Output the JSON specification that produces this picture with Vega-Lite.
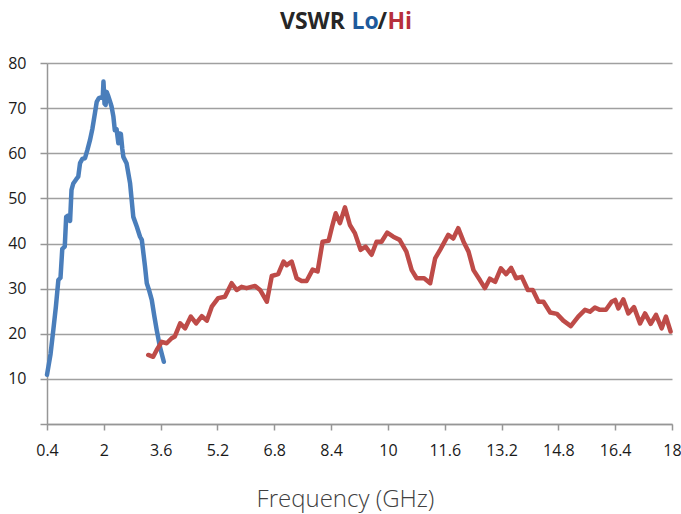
{
  "$schema": "https://vega.github.io/schema/vega-lite/v6.json",
  "width": 625,
  "height": 361,
  "autosize": "none",
  "padding": {"left": 47, "top": 63, "right": 9, "bottom": 90},
  "background": "white",
  "title": {
    "text": "VSWR",
    "font": "Open Sans",
    "fontSize": 23,
    "fontWeight": "bold",
    "color": "#262626",
    "anchor": "start",
    "frame": "group",
    "dx": 233,
    "offset": -42,
    "baseline": "alphabetic"
  },
  "config": {
    "view": {"stroke": null},
    "font": "Open Sans"
  },
  "data": {
    "values": [
      {"series": "Lo", "f": 0.40, "v": 10.9},
      {"series": "Lo", "f": 0.50, "v": 15.5},
      {"series": "Lo", "f": 0.58, "v": 21.0},
      {"series": "Lo", "f": 0.65, "v": 26.0},
      {"series": "Lo", "f": 0.72, "v": 31.9},
      {"series": "Lo", "f": 0.78, "v": 32.4},
      {"series": "Lo", "f": 0.83, "v": 38.8},
      {"series": "Lo", "f": 0.90, "v": 39.3},
      {"series": "Lo", "f": 0.94, "v": 45.9},
      {"series": "Lo", "f": 1.00, "v": 46.2},
      {"series": "Lo", "f": 1.05, "v": 45.0},
      {"series": "Lo", "f": 1.09, "v": 51.9},
      {"series": "Lo", "f": 1.14, "v": 53.3},
      {"series": "Lo", "f": 1.22, "v": 54.2},
      {"series": "Lo", "f": 1.28, "v": 54.8},
      {"series": "Lo", "f": 1.33, "v": 57.8},
      {"series": "Lo", "f": 1.40, "v": 58.8},
      {"series": "Lo", "f": 1.47, "v": 58.9},
      {"series": "Lo", "f": 1.54, "v": 60.8},
      {"series": "Lo", "f": 1.61, "v": 62.9},
      {"series": "Lo", "f": 1.68, "v": 65.5},
      {"series": "Lo", "f": 1.75, "v": 68.9},
      {"series": "Lo", "f": 1.80, "v": 71.4},
      {"series": "Lo", "f": 1.86, "v": 72.2},
      {"series": "Lo", "f": 1.93, "v": 72.4},
      {"series": "Lo", "f": 1.97, "v": 72.2},
      {"series": "Lo", "f": 1.99, "v": 75.9},
      {"series": "Lo", "f": 2.02, "v": 71.0},
      {"series": "Lo", "f": 2.05, "v": 70.7},
      {"series": "Lo", "f": 2.08, "v": 73.6},
      {"series": "Lo", "f": 2.12, "v": 72.8},
      {"series": "Lo", "f": 2.17, "v": 71.6},
      {"series": "Lo", "f": 2.22, "v": 70.3},
      {"series": "Lo", "f": 2.27, "v": 68.1},
      {"series": "Lo", "f": 2.31, "v": 65.1},
      {"series": "Lo", "f": 2.36, "v": 65.3},
      {"series": "Lo", "f": 2.41, "v": 62.2},
      {"series": "Lo", "f": 2.44, "v": 64.4},
      {"series": "Lo", "f": 2.48, "v": 64.3},
      {"series": "Lo", "f": 2.52, "v": 61.0},
      {"series": "Lo", "f": 2.55, "v": 59.2},
      {"series": "Lo", "f": 2.64, "v": 57.8},
      {"series": "Lo", "f": 2.74, "v": 53.3},
      {"series": "Lo", "f": 2.83, "v": 45.9},
      {"series": "Lo", "f": 2.93, "v": 43.7},
      {"series": "Lo", "f": 3.02, "v": 41.5},
      {"series": "Lo", "f": 3.07, "v": 40.8},
      {"series": "Lo", "f": 3.16, "v": 34.9},
      {"series": "Lo", "f": 3.21, "v": 31.2},
      {"series": "Lo", "f": 3.28, "v": 29.5},
      {"series": "Lo", "f": 3.35, "v": 27.5},
      {"series": "Lo", "f": 3.42, "v": 24.0},
      {"series": "Lo", "f": 3.49, "v": 20.8},
      {"series": "Lo", "f": 3.58, "v": 17.1},
      {"series": "Lo", "f": 3.69, "v": 13.8},
      {"series": "Hi", "f": 3.25, "v": 15.3},
      {"series": "Hi", "f": 3.39, "v": 14.9},
      {"series": "Hi", "f": 3.49, "v": 16.4},
      {"series": "Hi", "f": 3.63, "v": 18.2},
      {"series": "Hi", "f": 3.77, "v": 17.9},
      {"series": "Hi", "f": 3.91, "v": 19.0},
      {"series": "Hi", "f": 4.00, "v": 19.4},
      {"series": "Hi", "f": 4.15, "v": 22.3},
      {"series": "Hi", "f": 4.29, "v": 21.2},
      {"series": "Hi", "f": 4.45, "v": 23.8},
      {"series": "Hi", "f": 4.60, "v": 22.3},
      {"series": "Hi", "f": 4.76, "v": 23.9},
      {"series": "Hi", "f": 4.90, "v": 22.9},
      {"series": "Hi", "f": 5.04, "v": 26.0},
      {"series": "Hi", "f": 5.22, "v": 27.9},
      {"series": "Hi", "f": 5.41, "v": 28.2},
      {"series": "Hi", "f": 5.60, "v": 31.2},
      {"series": "Hi", "f": 5.74, "v": 29.7},
      {"series": "Hi", "f": 5.88, "v": 30.4},
      {"series": "Hi", "f": 6.02, "v": 30.1},
      {"series": "Hi", "f": 6.26, "v": 30.6},
      {"series": "Hi", "f": 6.40, "v": 29.7},
      {"series": "Hi", "f": 6.59, "v": 27.1},
      {"series": "Hi", "f": 6.73, "v": 32.8},
      {"series": "Hi", "f": 6.91, "v": 33.2},
      {"series": "Hi", "f": 7.06, "v": 36.0},
      {"series": "Hi", "f": 7.15, "v": 35.2},
      {"series": "Hi", "f": 7.29, "v": 36.0},
      {"series": "Hi", "f": 7.43, "v": 32.3},
      {"series": "Hi", "f": 7.57, "v": 31.7},
      {"series": "Hi", "f": 7.71, "v": 31.7},
      {"series": "Hi", "f": 7.88, "v": 34.2},
      {"series": "Hi", "f": 8.02, "v": 33.8},
      {"series": "Hi", "f": 8.16, "v": 40.4},
      {"series": "Hi", "f": 8.33, "v": 40.6},
      {"series": "Hi", "f": 8.42, "v": 43.5},
      {"series": "Hi", "f": 8.53, "v": 46.7},
      {"series": "Hi", "f": 8.65, "v": 44.5},
      {"series": "Hi", "f": 8.79, "v": 48.0},
      {"series": "Hi", "f": 8.93, "v": 44.1},
      {"series": "Hi", "f": 9.07, "v": 42.3},
      {"series": "Hi", "f": 9.23, "v": 38.6},
      {"series": "Hi", "f": 9.37, "v": 39.3},
      {"series": "Hi", "f": 9.54, "v": 37.5},
      {"series": "Hi", "f": 9.68, "v": 40.4},
      {"series": "Hi", "f": 9.82, "v": 40.4},
      {"series": "Hi", "f": 9.98, "v": 42.4},
      {"series": "Hi", "f": 10.15, "v": 41.5},
      {"series": "Hi", "f": 10.33, "v": 40.8},
      {"series": "Hi", "f": 10.52, "v": 38.2},
      {"series": "Hi", "f": 10.67, "v": 34.1},
      {"series": "Hi", "f": 10.81, "v": 32.3},
      {"series": "Hi", "f": 11.02, "v": 32.3},
      {"series": "Hi", "f": 11.19, "v": 31.2},
      {"series": "Hi", "f": 11.33, "v": 36.7},
      {"series": "Hi", "f": 11.47, "v": 38.6},
      {"series": "Hi", "f": 11.70, "v": 41.9},
      {"series": "Hi", "f": 11.84, "v": 41.1},
      {"series": "Hi", "f": 11.98, "v": 43.4},
      {"series": "Hi", "f": 12.13, "v": 40.4},
      {"series": "Hi", "f": 12.27, "v": 38.2},
      {"series": "Hi", "f": 12.41, "v": 34.1},
      {"series": "Hi", "f": 12.59, "v": 31.9},
      {"series": "Hi", "f": 12.73, "v": 30.1},
      {"series": "Hi", "f": 12.87, "v": 32.2},
      {"series": "Hi", "f": 13.02, "v": 31.5},
      {"series": "Hi", "f": 13.18, "v": 34.5},
      {"series": "Hi", "f": 13.33, "v": 33.2},
      {"series": "Hi", "f": 13.47, "v": 34.6},
      {"series": "Hi", "f": 13.61, "v": 32.3},
      {"series": "Hi", "f": 13.77, "v": 32.6},
      {"series": "Hi", "f": 13.94, "v": 29.7},
      {"series": "Hi", "f": 14.08, "v": 29.7},
      {"series": "Hi", "f": 14.24, "v": 27.1},
      {"series": "Hi", "f": 14.38, "v": 27.1},
      {"series": "Hi", "f": 14.57, "v": 24.7},
      {"series": "Hi", "f": 14.76, "v": 24.4},
      {"series": "Hi", "f": 14.94, "v": 22.9},
      {"series": "Hi", "f": 15.15, "v": 21.7},
      {"series": "Hi", "f": 15.36, "v": 23.8},
      {"series": "Hi", "f": 15.55, "v": 25.3},
      {"series": "Hi", "f": 15.69, "v": 24.9},
      {"series": "Hi", "f": 15.83, "v": 25.8},
      {"series": "Hi", "f": 15.97, "v": 25.3},
      {"series": "Hi", "f": 16.14, "v": 25.3},
      {"series": "Hi", "f": 16.30, "v": 27.1},
      {"series": "Hi", "f": 16.40, "v": 27.5},
      {"series": "Hi", "f": 16.49, "v": 25.6},
      {"series": "Hi", "f": 16.63, "v": 27.6},
      {"series": "Hi", "f": 16.77, "v": 24.5},
      {"series": "Hi", "f": 16.93, "v": 25.9},
      {"series": "Hi", "f": 17.10, "v": 22.3},
      {"series": "Hi", "f": 17.24, "v": 24.5},
      {"series": "Hi", "f": 17.40, "v": 22.2},
      {"series": "Hi", "f": 17.55, "v": 24.2},
      {"series": "Hi", "f": 17.71, "v": 21.2},
      {"series": "Hi", "f": 17.83, "v": 23.8},
      {"series": "Hi", "f": 17.96, "v": 20.5}
    ]
  },
  "resolve": {"axis": {"x": "independent", "y": "independent"}},
  "layer": [
    {
      "transform": [{"filter": "datum.series == 'Lo'"}],
      "mark": {"type": "line", "strokeWidth": 4.5, "strokeCap": "round", "strokeJoin": "round", "color": "#4a7ebb"},
      "encoding": {
        "x": {
          "field": "f",
          "type": "quantitative",
          "scale": {"domain": [0.4, 18], "nice": false, "zero": false},
          "axis": {
            "orient": "bottom",
            "values": [0.4, 2, 3.6, 5.2, 6.8, 8.4, 10, 11.6, 13.2, 14.8, 16.4, 18],
            "format": ".1~f",
            "grid": false,
            "title": "Frequency (GHz)",
            "titleFont": "Open Sans",
            "titleFontSize": 24,
            "titleFontWeight": 300,
            "titleColor": "#404040",
            "titleX": 298,
            "titleY": 82,
            "titleBaseline": "alphabetic",
            "titleAlign": "center",
            "labelFont": "Open Sans",
            "labelFontSize": 16,
            "labelColor": "#1a1a1a",
            "labelPadding": 12,
            "labelFlush": false,
            "labelOverlap": false,
            "domainColor": "#969696",
            "domainWidth": 1.5,
            "tickColor": "#969696",
            "tickWidth": 1.5,
            "tickSize": 6
          }
        },
        "y": {
          "field": "v",
          "type": "quantitative",
          "scale": {"domain": [0, 80], "nice": false},
          "axis": {
            "orient": "left",
            "values": [0, 10, 20, 30, 40, 50, 60, 70, 80],
            "labelExpr": "datum.value == 0 ? '' : datum.label",
            "title": "/",
            "titleFont": "Open Sans",
            "titleFontSize": 23,
            "titleFontWeight": "bold",
            "titleColor": "#262626",
            "titleAngle": 0,
            "titleX": 330,
            "titleY": -35,
            "titleAlign": "left",
            "titleBaseline": "alphabetic",
            "grid": true,
            "gridColor": "#a0a0a0",
            "gridWidth": 1.3,
            "labelFont": "Open Sans",
            "labelFontSize": 16,
            "labelColor": "#1a1a1a",
            "labelPadding": 14,
            "labelFlush": false,
            "domainColor": "#969696",
            "domainWidth": 1.5,
            "tickColor": "#969696",
            "tickWidth": 1.5,
            "tickSize": 7
          }
        }
      }
    },
    {
      "transform": [{"filter": "datum.series == 'Hi'"}],
      "mark": {"type": "line", "strokeWidth": 4.5, "strokeCap": "round", "strokeJoin": "round", "color": "#be4b48"},
      "encoding": {
        "x": {
          "field": "f",
          "type": "quantitative",
          "axis": {
            "orient": "top",
            "domain": false,
            "ticks": false,
            "labels": false,
            "grid": false,
            "title": "Lo",
            "titleFont": "Open Sans",
            "titleFontSize": 23,
            "titleFontWeight": "bold",
            "titleColor": "#1d5a9c",
            "titleX": 304,
            "titleY": -35,
            "titleAlign": "left",
            "titleBaseline": "alphabetic"
          }
        },
        "y": {
          "field": "v",
          "type": "quantitative",
          "axis": {
            "orient": "right",
            "domain": false,
            "ticks": false,
            "labels": false,
            "grid": false,
            "title": "Hi",
            "titleFont": "Open Sans",
            "titleFontSize": 23,
            "titleFontWeight": "bold",
            "titleColor": "#b7303b",
            "titleAngle": 0,
            "titleX": -285,
            "titleY": -35,
            "titleAlign": "left",
            "titleBaseline": "alphabetic"
          }
        }
      }
    }
  ]
}
